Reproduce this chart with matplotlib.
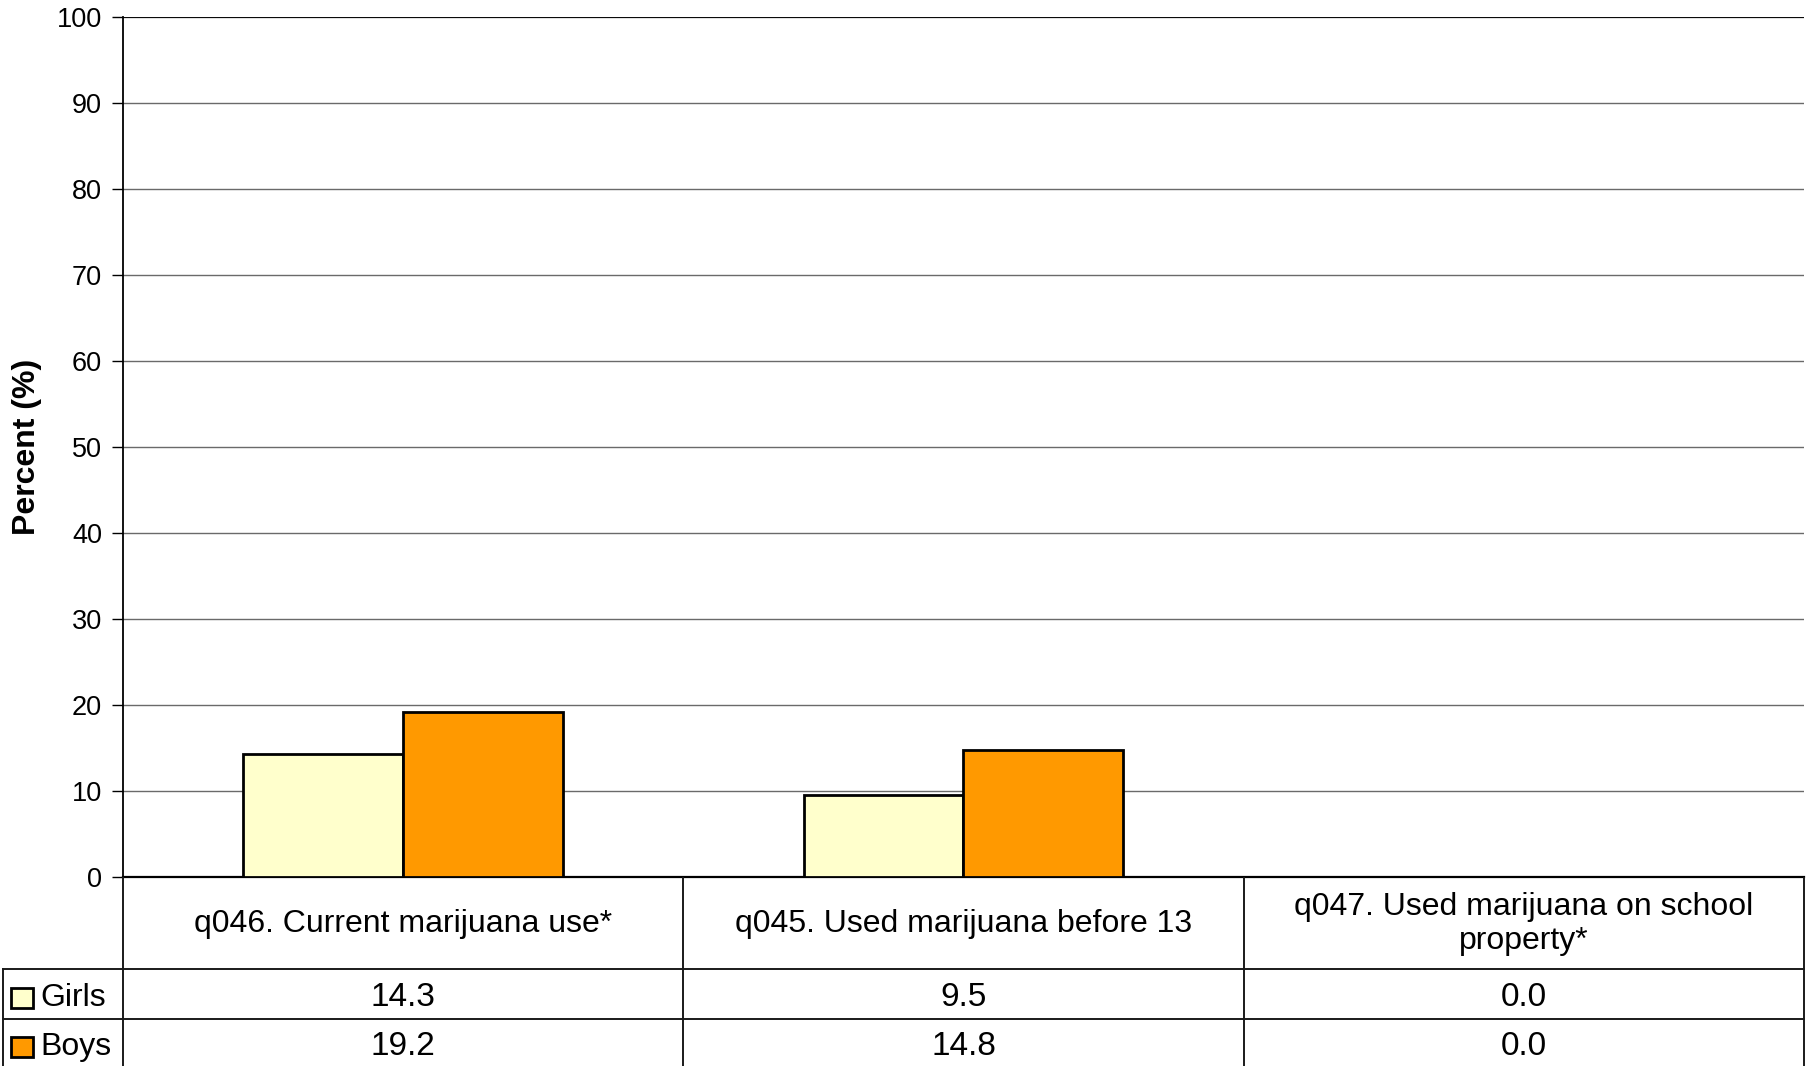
import matplotlib
matplotlib.use("Agg")
import matplotlib.pyplot as plt
import numpy as np
from matplotlib.patches import Rectangle

plt.rcParams['font.family'] = ['Liberation Sans', 'DejaVu Sans']

categories = ["q046. Current marijuana use*",
              "q045. Used marijuana before 13",
              "q047. Used marijuana on school\nproperty*"]
girls = [14.3, 9.5, 0.0]
boys = [19.2, 14.8, 0.0]
series_names = ["Girls", "Boys"]
series_colors = ["#FFFFCC", "#FF9900"]
yticks = np.arange(0, 101, 10)

W, H = 1811, 1066
fig = plt.figure(figsize=(W / 100, H / 100), dpi=100)

# plot area in pixels
left, right, top, bottom = 123, 1804, 17, 877
ax = fig.add_axes([left / W, (H - bottom) / H, (right - left) / W, (bottom - top) / H])

x = np.arange(len(categories))
bw = 0.285
ax.bar(x - bw / 2, girls, bw, color=series_colors[0], edgecolor="black", linewidth=2.0, zorder=3)
ax.bar(x + bw / 2, boys, bw, color=series_colors[1], edgecolor="black", linewidth=2.0, zorder=3)

ax.set_xlim(-0.5, len(categories) - 0.5)
ax.set_ylim(0, 100)
ax.set_yticks(yticks)
ax.tick_params(axis="y", labelsize=19.5, length=8, width=1, direction="out", pad=7)
ax.tick_params(axis="x", bottom=False, labelbottom=False)
ax.grid(axis="y", color="#6a6a6a", linewidth=1, zorder=0)
for s in ["top", "right"]:
    ax.spines[s].set_visible(False)
ax.spines["left"].set_linewidth(1.3)
ax.spines["bottom"].set_linewidth(1.6)
ax.axhline(100, color="black", linewidth=1.3, zorder=2)
ax.set_ylabel("Percent (%)", fontsize=23, fontweight="bold")
ax.yaxis.set_label_coords((42 - left) / (right - left), 0.5)

# data table below the plot, drawn in pixel units
tab = fig.add_axes([0, 0, 1, (H - bottom) / H])
tab.set_xlim(0, W)
tab.set_ylim(H, bottom)
tab.axis("off")

px_per_unit = (right - left) / len(categories)
col_edges = [left + i * px_per_unit for i in range(len(categories) + 1)]
row_edges = [bottom, 969, 1019, H]
lc = "#1a1a1a"
for xe in col_edges:
    tab.plot([xe, xe], [bottom, H], color=lc, linewidth=1.4)
tab.plot([3, 3], [row_edges[1], H], color=lc, linewidth=1.4)
for ye in row_edges[1:3]:
    tab.plot([3, right], [ye, ye], color=lc, linewidth=1.4)

for i, cat in enumerate(categories):
    cx = (col_edges[i] + col_edges[i + 1]) / 2
    tab.text(cx, (row_edges[0] + row_edges[1]) / 2 + 1, cat, ha="center", va="center",
             fontsize=23, linespacing=1.2)
    for r, vals in enumerate([girls, boys]):
        cy = (row_edges[r + 1] + row_edges[r + 2]) / 2 + 4
        tab.text(cx, cy, f"{vals[i]:.1f}", ha="center", va="center", fontsize=24)

for r, (name, col) in enumerate(zip(series_names, series_colors)):
    cy = (row_edges[r + 1] + row_edges[r + 2]) / 2 + 4
    tab.add_patch(Rectangle((11, cy - 10), 22, 20, facecolor=col, edgecolor="black", linewidth=2.0))
    tab.text(40, cy, name, ha="left", va="center", fontsize=23)

fig.savefig("out.png", dpi=100)
